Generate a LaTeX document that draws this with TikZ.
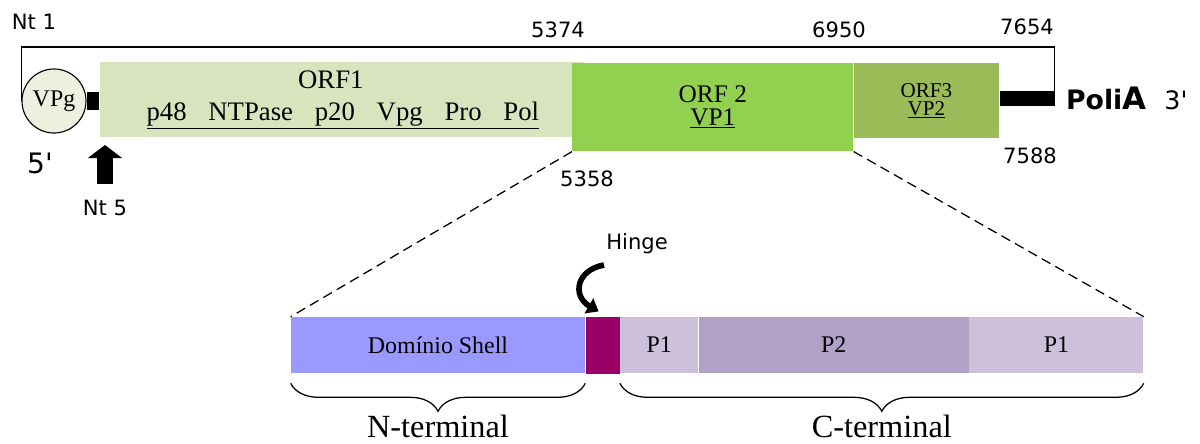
\documentclass[tikz,border=0pt]{standalone}
\usepackage{fontspec}
\setmainfont{Liberation Serif}
\setsansfont{DejaVu Sans}
\usetikzlibrary{positioning,arrows.meta,decorations.pathreplacing}
\definecolor{orfum}{HTML}{D7E4BD}
\definecolor{orfdois}{HTML}{92D050}
\definecolor{orftres}{HTML}{9BBB59}
\definecolor{vpgcor}{HTML}{EBF1DE}
\definecolor{shellcor}{HTML}{9999FF}
\definecolor{hingecor}{HTML}{990066}
\definecolor{pum}{HTML}{CCC0DA}
\definecolor{pdois}{HTML}{B2A1C7}
\newcommand{\espaco}{\hspace{15.5pt}}
\tikzset{
	segmento/.style={rectangle, inner sep=0pt, anchor=north west, 
		font=\fontsize{18}{16}\selectfont, align=center},
	dominio/.style={rectangle, inner sep=0pt, minimum height=1.4cm, 
		font=\fontsize{17}{17}\selectfont},
	rotulo/.style={font=\sffamily\fontsize{15}{15}\selectfont, inner sep=1pt},
	terminal/.style={font=\fontsize{23}{23}\selectfont, inner sep=0pt},
	chave/.style={decorate, decoration={brace, mirror, amplitude=0.7cm}, line width=0.9pt},
	tracejado/.style={dashed, dash pattern=on 7pt off 4pt, line width=0.9pt},
	setagrossa/.style={-{Triangle[width=0.85cm,length=0.33cm]}, line width=0.4cm},
	setacurva/.style={-{Triangle[width=12pt,length=8pt]}, line width=4pt}
}

\begin{document}
\begin{tikzpicture}[x=0.025cm, y=-0.025cm]
	\useasboundingbox (0,0) rectangle (1200,443);
	
	% genoma
	\node[segmento, fill=orfum, minimum width=12.125cm, minimum height=1.875cm, font=\fontsize{19}{23}\selectfont] (orf1) at (100,62) {\hspace*{-0.6cm}ORF1\\ \underline{p48\espaco NTPase\espaco p20\espaco Vpg\espaco Pro\espaco Pol}};
	\node[segmento, fill=orfdois, minimum width=7.025cm, minimum height=2.2cm] (orf2) at (572,63) {ORF 2\\ \underline{VP1}};
	\node[segmento, fill=orftres, minimum width=3.625cm, minimum height=1.875cm, font=\fontsize{15}{13}\selectfont] (orf3) at (orf2.north east) {ORF3\\ \underline{VP2}};
	\node[fill=black, inner sep=0pt, minimum width=1.375cm, minimum height=0.375cm, right=0pt of orf3, yshift=0.05cm] (cauda) {};
	\node[circle, draw, fill=vpgcor, minimum size=1.6cm, inner sep=0pt, line width=0.8pt, font=\fontsize{17}{17}\selectfont] (vpg) at (54,101) {VPg};
	\node[fill=black, inner sep=0pt, minimum width=0.3cm, minimum height=0.45cm, right=0pt of vpg] (tampa) {};
	\node[rotulo, font=\sffamily\bfseries\fontsize{19}{19}\selectfont, right=0.24cm of cauda] (polia) {Poli{\fontsize{22}{22}\selectfont A}};
	\node[rotulo, font=\sffamily\fontsize{18}{18}\selectfont] (tres) at (1176,100) {3\textquotesingle};
	
	\coordinate (topo) at (cauda.north east |- 0,47);
	\draw[line width=0.9pt] (vpg.west) |- (topo) -- (cauda.north east);
	
	% posicoes
	\node[rotulo] (nt1) at (34,22) {Nt 1};
	\node[rotulo] (n5374) at (558,30) {5374};
	\node[rotulo] (n6950) at (839,30) {6950};
	\node[rotulo] (n7654) at (1027,27) {7654};
	\node[rotulo] (n5358) at (587,179) {5358};
	\node[rotulo] (n7588) at (1030,156) {7588};
	\node[rotulo, font=\sffamily\fontsize{20}{20}\selectfont] (cinco) at (40,163) {5\textquotesingle};
	\node[rotulo] (nt5) at (105,208) {Nt 5};
	
	\coordinate (base) at (105,184);
	\draw[setagrossa] (base) -- ++(0,-39);
	
	% proteina VP1
	\node[dominio, fill=shellcor, minimum width=7.35cm] (shell) at (438,345) {Domínio Shell};
	\node[dominio, fill=hingecor, minimum width=0.85cm, minimum height=1.425cm, right=0pt of shell] (hinge) {};
	\node[dominio, fill=pum, minimum width=1.95cm, right=0pt of hinge] (p1a) {P1};
	\node[dominio, fill=pdois, minimum width=6.75cm, right=0pt of p1a] (p2) {P2};
	\node[dominio, fill=pum, minimum width=4.35cm, right=0pt of p2] (p1b) {P1};
	
	\draw[tracejado] (orf2.south west) -- (shell.north west);
	\draw[tracejado] (orf2.south east) -- (p1b.north east);
	
	\node[rotulo] (rotulohinge) at (637,244) {Hinge};
	\coordinate (inicio) at (604,265);
	\draw[setacurva] (inicio) .. controls (576,270) and (572,296) .. ([xshift=-0.1cm, yshift=0.12cm]hinge.north);
	
	\draw[chave] ([yshift=-0.25cm]shell.south west) -- ([yshift=-0.25cm]shell.south east)
		node[terminal, midway, below=0.78cm] (nterm) {N-terminal};
	\draw[chave] ([yshift=-0.25cm]p1a.south west) -- ([yshift=-0.25cm]p1b.south east)
		node[terminal, midway, below=0.78cm] (cterm) {C-terminal};
\end{tikzpicture}
\end{document}
